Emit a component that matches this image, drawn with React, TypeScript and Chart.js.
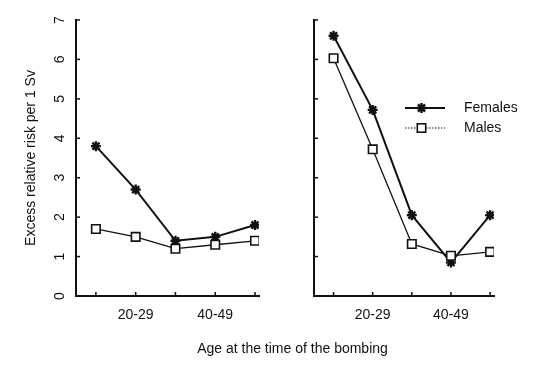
import React, { useEffect, useRef } from "react";
import { Chart, registerables } from "chart.js";

Chart.register(...registerables);

// ---- data ----
const ageGroups = ["10-19", "20-29", "30-39", "40-49", "50+"];
const shownTickLabels = ["20-29", "40-49"];
const yTickValues = [0, 1, 2, 3, 4, 5, 6, 7];
const leftFemales = [3.8, 2.7, 1.4, 1.5, 1.8];
const leftMales = [1.7, 1.5, 1.2, 1.3, 1.4];
const rightFemales = [6.6, 4.72, 2.05, 0.85, 2.05];
const rightMales = [6.03, 3.72, 1.32, 1.02, 1.12];
const seriesNames = ["Females", "Males"];
const yTitle = "Excess relative risk per 1 Sv";
const xTitle = "Age at the time of the bombing";

const INK = "#111";
const FONT = "'Liberation Sans', Arial, Helvetica, sans-serif";

function drawStar(ctx: CanvasRenderingContext2D, x: number, y: number, r: number) {
  ctx.beginPath();
  ctx.moveTo(x - r, y); ctx.lineTo(x + r, y);
  ctx.moveTo(x, y - r); ctx.lineTo(x, y + r);
  const d = r * Math.SQRT1_2;
  ctx.moveTo(x - d, y - d); ctx.lineTo(x + d, y + d);
  ctx.moveTo(x - d, y + d); ctx.lineTo(x + d, y - d);
  ctx.stroke();
}

const axisDecor = {
  id: "axisDecor",
  afterDraw(chart: any, _args: any, opts: any) {
    const { ctx } = chart;
    const x = chart.scales.x;
    const y = chart.scales.y;
    ctx.save();
    ctx.strokeStyle = INK;
    ctx.lineWidth = 1.5;
    // inward tick marks
    x.ticks.forEach((t: any) => {
      const px = x.getPixelForValue(t.value);
      ctx.beginPath();
      ctx.moveTo(px, x.top);
      ctx.lineTo(px, x.top - 4);
      ctx.stroke();
    });
    y.ticks.forEach((t: any) => {
      const py = y.getPixelForValue(t.value);
      ctx.beginPath();
      ctx.moveTo(y.right, py);
      ctx.lineTo(y.right + 4, py);
      ctx.stroke();
    });
    // rotated y tick labels
    if (opts.yLabels) {
      ctx.fillStyle = INK;
      ctx.font = `14px ${FONT}`;
      ctx.textAlign = "center";
      ctx.textBaseline = "middle";
      y.ticks.forEach((t: any) => {
        const py = y.getPixelForValue(t.value);
        ctx.save();
        ctx.translate(y.right - 16, py);
        ctx.rotate(-Math.PI / 2);
        ctx.fillText(String(t.value), 0, 0);
        ctx.restore();
      });
    }
    // legend
    if (opts.legend) {
      const lx0 = 135, lx1 = 175, mx = 151.5, tx = 194;
      const rows = [108, 128];
      ctx.font = `14px ${FONT}`;
      ctx.fillStyle = INK;
      ctx.textAlign = "left";
      ctx.textBaseline = "middle";
      // Females
      ctx.lineWidth = 2;
      ctx.setLineDash([]);
      ctx.beginPath();
      ctx.moveTo(lx0, rows[0]); ctx.lineTo(lx1, rows[0]);
      ctx.stroke();
      ctx.lineWidth = 2.4;
      drawStar(ctx, mx, rows[0], 5);
      ctx.fillText(seriesNames[0], tx, rows[0]);
      // Males
      ctx.lineWidth = 1.2;
      ctx.setLineDash([1.5, 1.5]);
      ctx.beginPath();
      ctx.moveTo(lx0, rows[1]); ctx.lineTo(lx1, rows[1]);
      ctx.stroke();
      ctx.setLineDash([]);
      ctx.lineWidth = 1.6;
      ctx.fillStyle = "#fff";
      ctx.fillRect(mx - 4.2, rows[1] - 4.2, 8.4, 8.4);
      ctx.strokeRect(mx - 4.2, rows[1] - 4.2, 8.4, 8.4);
      ctx.fillStyle = INK;
      ctx.fillText(seriesNames[1], tx, rows[1]);
    }
    ctx.restore();
  },
};

function makeConfig(females: number[], males: number[], o: { yWidth: number; padRight: number; isLeft: boolean }) {
  const toPts = (arr: number[]) => arr.map((v, i) => ({ x: i + 0.5, y: v }));
  return {
    type: "line" as const,
    data: {
      datasets: [
        {
          label: seriesNames[1],
          data: toPts(males),
          borderColor: INK,
          borderWidth: 1.3,
          pointStyle: "rect",
          pointRadius: 6,
          pointBackgroundColor: "#fff",
          pointBorderColor: INK,
          pointBorderWidth: 1.6,
          tension: 0,
          order: 0,
        },
        {
          label: seriesNames[0],
          data: toPts(females),
          borderColor: INK,
          borderWidth: 2,
          pointStyle: "star",
          pointRadius: 5,
          pointBorderColor: INK,
          pointBorderWidth: 2.4,
          tension: 0,
          order: 1,
        },
      ],
    },
    options: {
      animation: false,
      responsive: false,
      events: [],
      layout: { padding: { left: 0, right: o.padRight, top: 20, bottom: 0 } },
      plugins: {
        legend: { display: false },
        tooltip: { enabled: false },
        axisDecor: { yLabels: o.isLeft, legend: !o.isLeft },
      },
      scales: {
        x: {
          type: "linear",
          min: 0,
          max: 4.6,
          afterBuildTicks: (s: any) => {
            s.ticks = ageGroups.map((_, i) => ({ value: i + 0.5 }));
          },
          afterFit: (s: any) => {
            s.height = 75;
            s.paddingLeft = 0;
            s.paddingRight = 0;
          },
          grid: { display: false, drawTicks: false },
          border: { display: true, color: INK, width: 2 },
          ticks: {
            autoSkip: false,
            maxRotation: 0,
            minRotation: 0,
            padding: 11,
            color: INK,
            font: { family: FONT, size: 14 },
            callback: (_v: any, i: number) =>
              shownTickLabels.includes(ageGroups[i]) ? ageGroups[i] : "",
          },
        },
        y: {
          type: "linear",
          min: 0,
          max: 7,
          afterBuildTicks: (s: any) => {
            s.ticks = yTickValues.map((v) => ({ value: v }));
          },
          afterFit: (s: any) => {
            s.width = o.yWidth;
            s.paddingTop = 0;
            s.paddingBottom = 0;
          },
          grid: { display: false, drawTicks: false },
          border: { display: true, color: INK, width: 2 },
          ticks: { display: false },
          title: {
            display: o.isLeft,
            text: yTitle,
            color: INK,
            font: { family: FONT, size: 14 },
            padding: { top: 22.5, bottom: 0 },
          },
        },
      },
    },
    plugins: [axisDecor],
  };
}

function Panel(props: { females: number[]; males: number[]; left: number; width: number; isLeft: boolean; yWidth: number; padRight: number }) {
  const ref = useRef<HTMLCanvasElement>(null);
  useEffect(() => {
    const chart = new Chart(
      ref.current as HTMLCanvasElement,
      makeConfig(props.females, props.males, { yWidth: props.yWidth, padRight: props.padRight, isLeft: props.isLeft }) as any
    );
    return () => chart.destroy();
  }, []);
  return (
    <canvas
      ref={ref}
      width={props.width}
      height={371}
      style={{ position: "absolute", left: props.left, top: 0, display: "block" }}
    />
  );
}

export default function App() {
  return (
    <div style={{ position: "absolute", left: 0, top: 0, width: 541, height: 371, background: "#fff", overflow: "hidden" }}>
      <Panel females={leftFemales} males={leftMales} left={0} width={270} isLeft={true} yWidth={76} padRight={11} />
      <Panel females={rightFemales} males={rightMales} left={270} width={271} isLeft={false} yWidth={44} padRight={47} />
      <div
        style={{
          position: "absolute",
          left: 0,
          width: 585,
          top: 340,
          textAlign: "center",
          font: `14px ${FONT}`,
          lineHeight: "16px",
          color: INK,
          whiteSpace: "nowrap",
        }}
      >
        {xTitle}
      </div>
    </div>
  );
}
